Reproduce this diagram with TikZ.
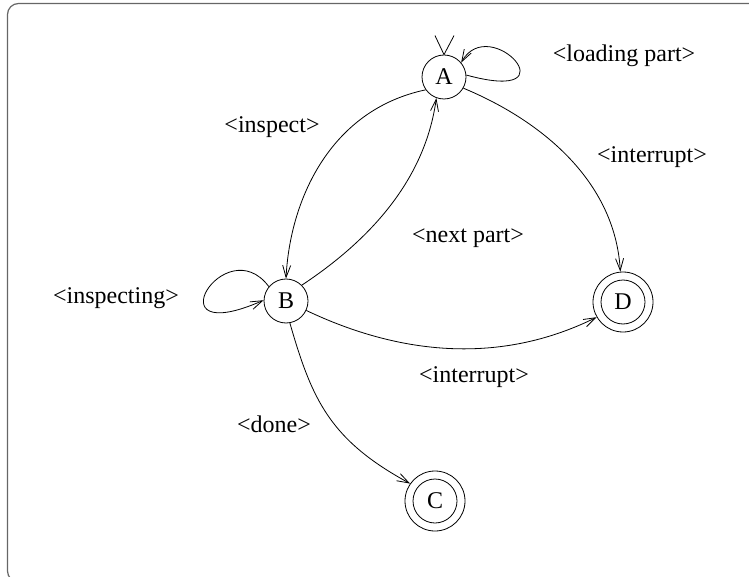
\documentclass[tikz,border=0pt]{standalone}
\usepackage{fontspec}
\setmainfont{Liberation Serif}
\usetikzlibrary{arrows.meta}
\begin{document}
\begin{tikzpicture}[x=1pt,y=-1pt,
  every node/.style={font=\fontsize{24}{28}\selectfont},
  state/.style={circle,draw,line width=0.8pt,minimum size=44pt,inner sep=0pt},
  accept/.style={circle,draw,line width=0.8pt,minimum size=60pt,inner sep=0pt},
  edge/.style={line width=0.8pt,-{Straight Barb[length=12pt,width=8pt]}},
  lbl/.style={inner sep=0pt}]
\useasboundingbox (0,0) rectangle (749,577);
\clip (0,0) rectangle (749,577);
\draw[black!60, line width=1.2pt, rounded corners=11pt] (7.5,3.5) rectangle (800,582);

\node[state] (A) at (444,77) {A};
\node[state] (B) at (286,301) {B};
\node[accept] (C) at (435,501) {C};
\node[accept] (D) at (623,302) {D};
\draw[line width=0.8pt] (C.center) circle[radius=22pt];
\draw[line width=0.8pt] (D.center) circle[radius=22pt];

% initial marker
\draw[line width=0.8pt] (A.north) -- ++(-9,-19);
\draw[line width=0.8pt] (A.north) -- ++(10,-19);

% edges
\draw[edge] (A.5) .. controls (575,105) and (490,12) .. (A.40);
\draw[edge] (B.140) .. controls (225,228) and (150,350) .. (B.178);
\draw[edge] (A.215) .. controls (330,110) and (290,200) .. (B.north);
\draw[edge] (B.45) .. controls (370,240) and (425,180) .. (A.250);
\draw[edge] (A.-30) .. controls (540,120) and (615,180) .. (D.95);
\draw[edge] (B.-25) .. controls (400,355) and (500,365) .. (D.210);
\draw[edge] (B.-80) .. controls (312,400) and (330,440) .. (C.145);

% labels
\node[lbl] (l1) at (624,56) {<loading part>};
\node[lbl] (l2) at (272,127) {<inspect>};
\node[lbl] (l3) at (652,157) {<interrupt>};
\node[lbl] (l4) at (468,238) {<next part>};
\node[lbl] (l5) at (116,298) {<inspecting>};
\node[lbl] (l6) at (474,377) {<interrupt>};
\node[lbl] (l7) at (274,424) {<done>};
\end{tikzpicture}
\end{document}
